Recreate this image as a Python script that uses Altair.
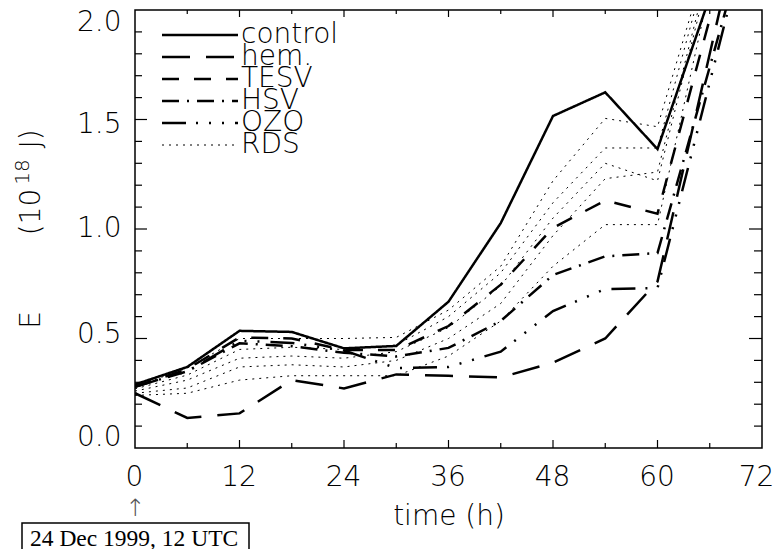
import altair as alt
import pandas as pd

# ---------------- data ----------------
hours = [0, 6, 12, 18, 24, 30, 36, 42, 48, 54, 60, 66, 72]

control = [0.29, 0.37, 0.535, 0.53, 0.455, 0.466, 0.668, 1.027, 1.516, 1.624, 1.365, 2.06, 2.76]
hem = [0.25, 0.137, 0.158, 0.31, 0.272, 0.336, 0.33, 0.322, 0.39, 0.50, 0.76, 1.80, 2.84]
tesv = [0.28, 0.36, 0.505, 0.50, 0.447, 0.447, 0.557, 0.746, 1.005, 1.13, 1.07, 1.96, 2.85]
hsv = [0.28, 0.35, 0.478, 0.465, 0.435, 0.418, 0.457, 0.58, 0.79, 0.875, 0.89, 1.74, 2.59]
ozo = [0.28, 0.35, 0.49, 0.48, 0.445, 0.365, 0.37, 0.44, 0.625, 0.726, 0.73, 1.67, 2.61]

rds_a = [0.28, 0.365, 0.50, 0.50, 0.50, 0.505, 0.63, 0.83, 1.22, 1.505, 1.467, 2.27, None]
rds_b = [0.27, 0.333, 0.45, 0.46, 0.45, 0.47, 0.60, 0.80, 1.12, 1.37, 1.37, 2.25, None]
rds_c = [0.26, 0.31, 0.41, 0.42, 0.41, 0.44, 0.55, 0.74, 1.05, 1.30, 1.22, 2.18, None]
rds_d = [0.25, 0.274, 0.37, 0.38, 0.37, 0.40, 0.50, 0.66, 0.97, 1.23, 1.26, 2.21, None]
rds_e = [0.24, 0.25, 0.31, 0.33, 0.33, 0.33, 0.42, 0.58, 0.83, 1.02, 1.02, 2.10, None]

series_names = ["control", "hem.", "TESV", "HSV", "OZO", "RDS"]

x_tick_labels = [0, 12, 24, 36, 48, 60, 72]
x_minor_ticks = [6, 18, 30, 42, 54, 66]
y_tick_labels = [0.0, 0.5, 1.0, 1.5, 2.0]
y_minor_ticks = [0.1, 0.2, 0.3, 0.4, 0.6, 0.7, 0.8, 0.9, 1.1, 1.2, 1.3, 1.4, 1.6, 1.7, 1.8, 1.9]

y_title_var = "E"
y_title_parts = ["(10", "18", "J)"]
x_title = "time (h)"
date_note = "24 Dec 1999, 12 UTC"

# ---------------- styles ----------------
dash_styles = [[1, 0], [28, 16], [17, 15], [17, 8, 2, 8], [24, 10, 2, 11, 2, 11, 2, 11], [2, 5]]
line_widths = [2.5, 2.5, 2.5, 2.5, 2.5, 1.0]
FONT = "DejaVu Sans"
FW = 200
FS = 28

# ---------------- tables ----------------
rows = []
members = [
    ("control", "control", control), ("hem.", "hem.", hem), ("TESV", "TESV", tesv),
    ("HSV", "HSV", hsv), ("OZO", "OZO", ozo),
    ("RDS", "RDS1", rds_a), ("RDS", "RDS2", rds_b), ("RDS", "RDS3", rds_c),
    ("RDS", "RDS4", rds_d), ("RDS", "RDS5", rds_e),
]
for s, m, vals in members:
    for h, v in zip(hours, vals):
        if v is not None:
            rows.append({"h": h, "E": v, "series": s, "member": m})
df = pd.DataFrame(rows)

xs = alt.Scale(domain=[0, 72], nice=False, zero=False)
ys = alt.Scale(domain=[0, 2], nice=False, zero=False)

W, H = 627, 438

# the original's y labels sit slightly squeezed toward the middle
y_label_offset = {
    "condition": [
        {"test": "datum.value >= 1.99", "value": 12},
        {"test": "datum.value >= 1.49", "value": 4.5},
        {"test": "datum.value >= 0.99", "value": -1},
        {"test": "datum.value >= 0.49", "value": -4.5},
    ],
    "value": -11,
}
x_label_offset = {"condition": {"test": "datum.value >= 71", "value": -6}, "value": -1}

thick = alt.Chart(df[df.series != "RDS"]).mark_line(clip=True, color="black", strokeWidth=2.5).encode(
    x=alt.X("h:Q", scale=xs, axis=alt.Axis(
        values=x_tick_labels, format="d", title=x_title, ticks=False, domain=False, grid=False,
        labelPadding=15, labelFlush=False, labelOffset=x_label_offset,
        titleY=68, titleBaseline="middle")),
    y=alt.Y("E:Q", scale=ys, axis=alt.Axis(
        values=y_tick_labels, format=".1f", title=None, ticks=False, domain=False, grid=False,
        labelPadding=14, labelFlush=False, labelOffset=y_label_offset)),
    detail="member:N",
    strokeDash=alt.StrokeDash("series:N", scale=alt.Scale(domain=series_names[:5], range=dash_styles[:5]), legend=None),
)

thin = alt.Chart(df[df.series == "RDS"]).mark_line(
    clip=True, color="black", strokeWidth=1.0, strokeDash=dash_styles[5]
).encode(
    x=alt.X("h:Q", scale=xs),
    y=alt.Y("E:Q", scale=ys),
    detail="member:N",
)

# inward ticks
def xticks(vals, y0, y1):
    return alt.Chart(pd.DataFrame({"h": vals})).mark_rule(color="black", strokeWidth=1.2).encode(
        x=alt.X("h:Q", scale=xs), y=alt.value(y0), y2=alt.value(y1))

def yticks(vals, x0, x1):
    return alt.Chart(pd.DataFrame({"E": vals})).mark_rule(color="black", strokeWidth=1.2).encode(
        y=alt.Y("E:Q", scale=ys), x=alt.value(x0), x2=alt.value(x1))

x_major_inner = [v for v in x_tick_labels if 0 < v < 72]
y_major_inner = [v for v in y_tick_labels if 0 < v < 2]
ticks = [
    xticks(x_major_inner, H, H - 8), xticks(x_minor_ticks, H, H - 5),
    xticks(x_major_inner, 0, 7), xticks(x_minor_ticks, 0, 4),
    yticks(y_major_inner, 0, 12), yticks(y_minor_ticks, 0, 7),
    yticks(y_major_inner, W, W - 13), yticks(y_minor_ticks, W, W - 8),
]

# legend (drawn inside the plot, top-left)
legend_layers = []
for i, name in enumerate(series_names):
    ly = 25 + 22 * i
    ld = pd.DataFrame({"label": [name]})
    legend_layers.append(
        alt.Chart(ld).mark_rule(color="black", strokeWidth=line_widths[i], strokeDash=dash_styles[i]).encode(
            x=alt.value(27), x2=alt.value(103), y=alt.value(ly)))
    legend_layers.append(
        alt.Chart(ld).mark_text(align="left", baseline="middle", font=FONT, fontWeight=FW, fontSize=FS,
                                color="black").encode(
            x=alt.value(106), y=alt.value(ly), text="label:N"))

# y title pieces (rotated), with a raised exponent
def ytext(txt, x, y, size):
    return alt.Chart(pd.DataFrame({"t": [txt]})).mark_text(
        angle=270, font=FONT, fontWeight=FW, fontSize=size, color="black",
        baseline="middle", align="center").encode(
        x=alt.value(x), y=alt.value(y), text="t:N")

ytitle = [
    ytext(y_title_var, -103, 310, FS),
    ytext(y_title_parts[0], -103, 202, FS),
    ytext(y_title_parts[1], -112, 162, 20),
    ytext(y_title_parts[2], -103, 129, FS),
]

# date annotation below the axis
note_df = pd.DataFrame({"t": [date_note], "h": [0]})
note_box = alt.Chart(note_df).mark_rect(fill="white", stroke="black", strokeWidth=1.5).encode(
    x=alt.value(-113), x2=alt.value(114), y=alt.value(513), y2=alt.value(546))
note_text = alt.Chart(note_df).mark_text(
    align="left", baseline="alphabetic", font="Liberation Serif", fontSize=23.5, color="black").encode(
    x=alt.value(-105), y=alt.value(536), text="t:N")
note_arrow = alt.Chart(note_df).mark_text(
    text="\u2191", font=FONT, fontWeight=FW, fontSize=24, color="#555555", baseline="middle").encode(
    x=alt.X("h:Q", scale=xs), y=alt.value(499))

chart = alt.layer(
    thick, thin, *ticks, *legend_layers, *ytitle, note_box, note_text, note_arrow
).properties(
    width=W, height=H,
    autosize=alt.AutoSizeParams(type="none"),
    padding={"left": 127, "top": 2, "right": 12, "bottom": 101},
).configure_view(
    stroke="black", strokeWidth=1.5
).configure_axis(
    labelFont=FONT, labelFontSize=FS, labelFontWeight=FW, labelColor="black",
    titleFont=FONT, titleFontSize=FS, titleFontWeight=FW, titleColor="black",
)

chart.save("out.html", embed_options={"renderer": "svg", "actions": False})
